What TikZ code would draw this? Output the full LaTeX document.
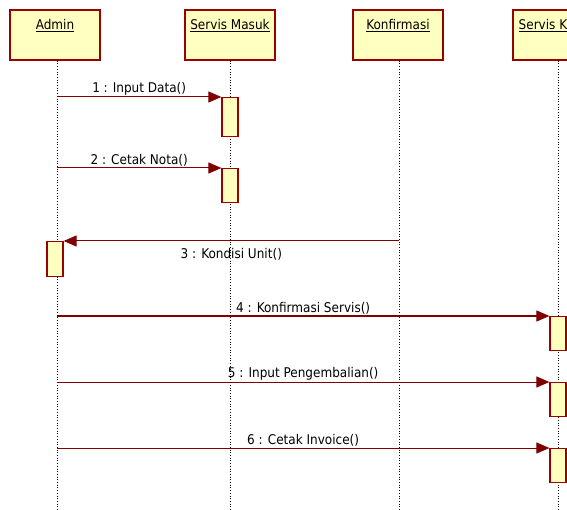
\documentclass[tikz,border=0pt]{standalone}
\usepackage{fontspec}
\setmainfont{DejaVu Sans Condensed}
\usetikzlibrary{arrows.meta}
\definecolor{boxfill}{RGB}{255,255,192}
\definecolor{boxline}{RGB}{153,0,0}
\definecolor{msgline}{RGB}{128,0,0}
\tikzset{
  header/.style={draw=boxline, line width=1.6pt, fill=boxfill, minimum width=90pt, minimum height=50pt, inner sep=0pt},
  act/.style={draw=boxline, line width=1.2pt, fill=boxfill, minimum width=16pt, inner sep=0pt},
  lifeline/.style={black, line width=0.7pt, dotted},
  msg/.style={draw=msgline, line width=1pt, -{Triangle[length=13pt,width=11pt]}},
  msglabel/.style={font=\fontsize{13.4}{15}\selectfont, inner sep=1.5pt},
  hdlabel/.style={font=\fontsize{13.4}{15}\selectfont}
}
\begin{document}
\begin{tikzpicture}[x=1pt,y=-1pt]
\useasboundingbox (0,0) rectangle (567,510);
\clip (0,0) rectangle (567,510);
% headers
\node[header, label={[hdlabel, anchor=north, yshift=-6.5pt]north:\underline{Admin}}] (h1) at (55,35) {};
\node[header, label={[hdlabel, anchor=north, yshift=-6.5pt]north:\underline{Servis Masuk}}] (h2) at (230,35) {};
\node[header, label={[hdlabel, anchor=north, yshift=-6.5pt]north:\underline{Konfirmasi}}] (h3) at (398,35) {};
\node[header, label={[hdlabel, anchor=north, yshift=-6.5pt]north:\underline{Servis Keluar}}] (h4) at (558,35) {};
% lifelines
\coordinate (e1) at (57,510);
\coordinate (e2) at (230,510);
\coordinate (e3) at (399,510);
\coordinate (e4) at (558,510);
\draw[lifeline] (h1.south -| e1) -- (e1);
\draw[lifeline] (h2.south -| e2) -- (e2);
\draw[lifeline] (h3.south -| e3) -- (e3);
\draw[lifeline] (h4.south -| e4) -- (e4);
% activations
\node[act, minimum height=39pt, anchor=north] (a1) at (230,97) {};
\node[act, minimum height=34pt, anchor=north] (a2) at (230,168) {};
\node[act, minimum height=35pt, anchor=north] (a3) at (55,241) {};
\node[act, minimum height=34pt, anchor=north] (a4) at (558,316) {};
\node[act, minimum height=34pt, anchor=north] (a5) at (558,382) {};
\node[act, minimum height=34pt, anchor=north] (a6) at (558,448) {};
% message sources
\coordinate (s1) at (e1 |- a1.north);
\coordinate (s2) at (e1 |- a2.north);
\coordinate (s3) at (e3 |- a3.north);
\coordinate (s4) at (e1 |- a4.north);
\coordinate (s5) at (e1 |- a5.north);
\coordinate (s6) at (e1 |- a6.north);
\draw[msg] (s1) -- node[msglabel, above] {1 : Input Data()} (a1.north west);
\draw[msg] (s2) -- node[msglabel, above] {2 : Cetak Nota()} (a2.north west);
\draw[msg] (s3) -- node[msglabel, below, yshift=-5pt] {3 : Kondisi Unit()} (a3.north east);
\draw[msg] (s4) -- node[msglabel, above] {4 : Konfirmasi Servis()} (a4.north west);
\draw[msg] (s5) -- node[msglabel, above] {5 : Input Pengembalian()} (a5.north west);
\draw[msg] (s6) -- node[msglabel, above] {6 : Cetak Invoice()} (a6.north west);
\end{tikzpicture}
\end{document}
